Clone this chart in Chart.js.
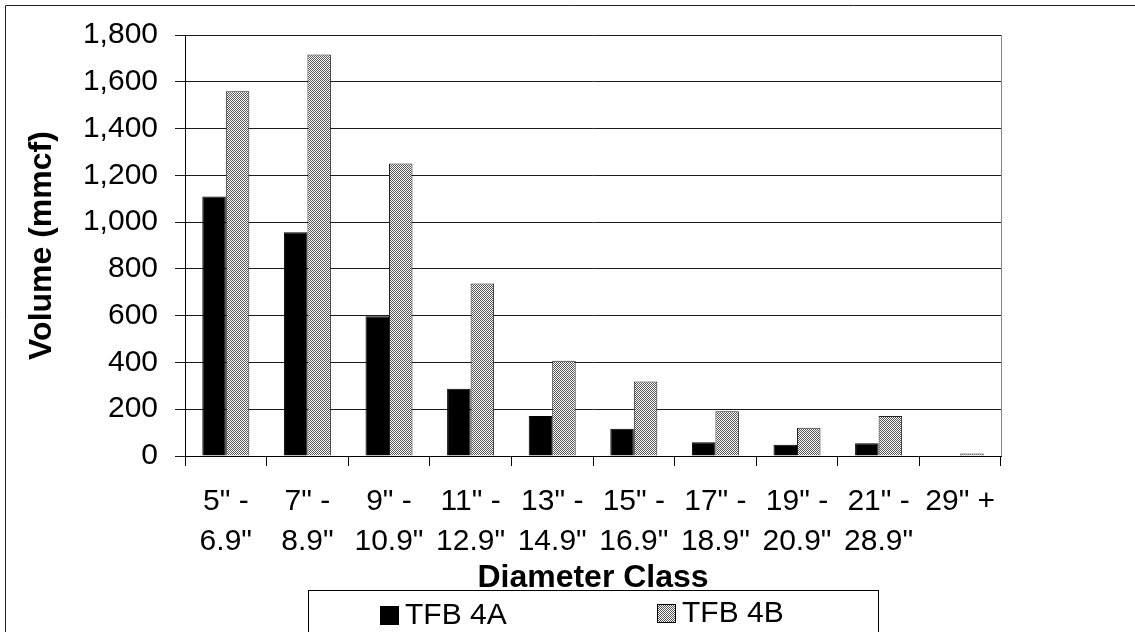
<!DOCTYPE html>
<html>
<head>
<meta charset="utf-8">
<script src="https://cdn.jsdelivr.net/npm/chart.js@4/dist/chart.umd.min.js"></script>
<style>
  body { margin: 0; background: #fff; }
  canvas { display: block; }
</style>
</head>
<body>
<canvas id="myChart" width="1135" height="632"></canvas>
<script>
const categorias = [
  ['5" -', '6.9"'],
  ['7" -', '8.9"'],
  ['9" -', '10.9"'],
  ['11" -', '12.9"'],
  ['13" -', '14.9"'],
  ['15" -', '16.9"'],
  ['17" -', '18.9"'],
  ['19" -', '20.9"'],
  ['21" -', '28.9"'],
  ['29" +'],
];
const tfb4A = [1110, 957, 597, 288, 171, 117, 59, 48, 54, 0];
const tfb4B = [1560, 1717, 1251, 737, 407, 318, 191, 121, 171, 11];
const series = ["TFB 4A", "TFB 4B"];
const ejeY = "Volume (mmcf)";
const ejeX = "Diameter Class";

const fuente = '"Liberation Sans", Arial, sans-serif';

// gray dither like the old excel fill
function crearTrama() {
  const c = document.createElement("canvas");
  c.width = 2;
  c.height = 2;
  const g = c.getContext("2d");
  g.fillStyle = "#fff";
  g.fillRect(0, 0, 2, 2);
  g.fillStyle = "#555";
  g.fillRect(0, 0, 1, 1);
  g.fillRect(1, 1, 1, 1);
  return g.createPattern(c, "repeat");
}
const trama = crearTrama();

const marco = {
  id: "marco",
  afterDraw(chart) {
    const ctx = chart.ctx;
    const a = chart.chartArea;
    ctx.save();
    // outer frame
    ctx.strokeStyle = "#222";
    ctx.lineWidth = 1;
    ctx.beginPath();
    ctx.moveTo(5.5, chart.height + 2);
    ctx.lineTo(5.5, 5.5);
    ctx.lineTo(chart.width + 2, 5.5);
    ctx.stroke();
    // right edge of plot
    ctx.strokeStyle = "#888";
    ctx.beginPath();
    ctx.moveTo(Math.round(a.right) + 0.5, a.top);
    ctx.lineTo(Math.round(a.right) + 0.5, a.bottom);
    ctx.stroke();

    // titles
    ctx.fillStyle = "#000";
    ctx.font = "bold 32px " + fuente;
    ctx.textAlign = "center";
    ctx.textBaseline = "middle";
    ctx.fillText(ejeX, (a.left + a.right) / 2, 578);
    ctx.save();
    ctx.translate(42, (a.top + a.bottom) / 2);
    ctx.rotate(-Math.PI / 2);
    ctx.fillText(ejeY, 0, 0);
    ctx.restore();

    // legend box
    ctx.strokeStyle = "#000";
    ctx.strokeRect(308.5, 590.5, 570, 60);
    const items = [
      { x: 380, y: 606 },
      { x: 657, y: 604 },
    ];
    ctx.font = "30px " + fuente;
    ctx.textAlign = "left";
    chart.data.datasets.forEach((ds, i) => {
      const it = items[i];
      ctx.fillStyle = ds.backgroundColor;
      ctx.fillRect(it.x, it.y, 19, 19);
      ctx.strokeStyle = "#000";
      ctx.strokeRect(it.x + 0.5, it.y + 0.5, 18, 18);
      ctx.fillStyle = "#000";
      ctx.fillText(ds.label, it.x + 25, it.y + 10);
    });
    ctx.restore();
  },
};

const config = {
  type: "bar",
  data: {
    labels: categorias,
    datasets: [
      {
        label: series[0],
        data: tfb4A,
        backgroundColor: "#000",
        borderColor: "#000",
        borderWidth: 1,
      },
      {
        label: series[1],
        data: tfb4B,
        backgroundColor: trama,
        borderColor: "#222",
        borderWidth: 1,
      },
    ],
  },
  options: {
    responsive: false,
    animation: false,
    devicePixelRatio: 1,
    layout: { padding: { top: 31, right: 134, left: 0, bottom: 0 } },
    datasets: { bar: { categoryPercentage: 0.576, barPercentage: 1 } },
    plugins: { legend: { display: false }, tooltip: { enabled: false } },
    scales: {
      x: {
        afterFit: (s) => { s.height = 176; },
        grid: { drawOnChartArea: false, color: "#000", tickLength: 10, offset: true },
        border: { color: "#000", width: 1 },
        ticks: {
          color: "#000",
          font: { family: fuente, size: 30, lineHeight: 1.333 },
          padding: 16,
          maxRotation: 0,
          autoSkip: false,
        },
      },
      y: {
        min: 0,
        max: 1800,
        afterFit: (s) => { s.width = 185; },
        grid: { color: "#1a1a1a", tickLength: 10 },
        border: { color: "#000", width: 1 },
        ticks: {
          stepSize: 200,
          color: "#000",
          padding: 17,
          font: { family: fuente, size: 30 },
          callback: (v) => v.toLocaleString("en-US"),
        },
      },
    },
  },
  plugins: [marco],
};

new Chart(document.getElementById("myChart"), config);
</script>
</body>
</html>
